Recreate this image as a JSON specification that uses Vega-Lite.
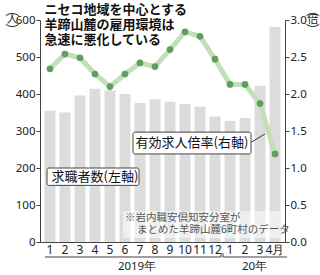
{
  "$schema": "https://vega.github.io/schema/vega-lite/v6.json",
  "width": 245,
  "height": 222,
  "autosize": "none",
  "padding": {"left": 40, "top": 20, "right": 35, "bottom": 33},
  "background": "white",
  "config": {
    "view": {"stroke": null},
    "font": "Noto Sans CJK JP",
    "text": {"font": "Noto Sans CJK JP"}
  },
  "datasets": {
    "d": [
      {"key": "2019-1", "seekers": 355, "ratio": 2.34},
      {"key": "2019-2", "seekers": 350, "ratio": 2.54},
      {"key": "2019-3", "seekers": 396, "ratio": 2.49},
      {"key": "2019-4", "seekers": 414, "ratio": 2.27},
      {"key": "2019-5", "seekers": 410, "ratio": 2.10},
      {"key": "2019-6", "seekers": 400, "ratio": 2.27},
      {"key": "2019-7", "seekers": 376, "ratio": 2.42},
      {"key": "2019-8", "seekers": 386, "ratio": 2.37},
      {"key": "2019-9", "seekers": 379, "ratio": 2.60},
      {"key": "2019-10", "seekers": 373, "ratio": 2.84},
      {"key": "2019-11", "seekers": 366, "ratio": 2.78},
      {"key": "2019-12", "seekers": 339, "ratio": 2.47},
      {"key": "2020-1", "seekers": 327, "ratio": 2.13},
      {"key": "2020-2", "seekers": 335, "ratio": 2.13},
      {"key": "2020-3", "seekers": 422, "ratio": 1.87},
      {"key": "2020-4月", "seekers": 581, "ratio": 1.19}
    ]
  },
  "layer": [
    {
      "data": {"name": "d"},
      "mark": {"type": "bar", "color": "#dcdcdc"},
      "encoding": {
        "x": {
          "field": "key", "type": "nominal",
          "scale": {
            "domain": ["2019-1","2019-2","2019-3","2019-4","2019-5","2019-6","2019-7","2019-8","2019-9","2019-10","2019-11","2019-12","2020-1","2020-2","2020-3","2020-4月"],
            "paddingInner": 0.27, "paddingOuter": 0.3
          },
          "axis": {
            "title": null, "labelAngle": 0, "ticks": false,
            "labelExpr": "split(datum.value, '-')[1]",
            "labelFontSize": 12, "labelColor": "#222", "labelPadding": 2,
            "domainColor": "#444", "labelFont": "Noto Sans", "labelOverlap": false
          }
        },
        "y": {
          "field": "seekers", "type": "quantitative",
          "scale": {"domain": [0, 600], "nice": false},
          "axis": {
            "title": null, "orient": "left", "values": [0,100,200,300,400,500,600],
            "grid": false, "tickSize": 4, "labelPadding": 1, "labelOverlap": false,
            "labelFontSize": 11.5, "labelColor": "#222",
            "domainColor": "#444", "tickColor": "#444", "labelFont": "Noto Sans"
          }
        }
      }
    },
    {
      "data": {"name": "d"},
      "encoding": {
        "x": {"field": "key", "type": "nominal"},
        "y": {
          "field": "ratio", "type": "quantitative",
          "scale": {"domain": [0, 3], "nice": false},
          "axis": {
            "title": null, "orient": "right", "values": [0,0.5,1,1.5,2,2.5,3], "format": ".1f",
            "grid": false, "tickSize": 4, "labelPadding": 1, "labelOverlap": false,
            "labelFontSize": 11.5, "labelColor": "#222",
            "domainColor": "#444", "tickColor": "#444", "labelFont": "Noto Sans"
          }
        }
      },
      "layer": [
        {"mark": {"type": "line", "color": "#c3dfb8", "strokeWidth": 5}},
        {"mark": {"type": "point", "filled": true, "color": "#5e9f5e", "size": 45, "opacity": 1}}
      ]
    },
    {
      "data": {"values": [{}]},
      "layer": [
        {
          "mark": {"type": "rect", "fill": "white", "opacity": 0.55},
          "encoding": {
            "x": {"datum": "2019-6", "bandPosition": 0.32},
            "x2": {"datum": "2020-4月", "bandPosition": 0.95},
            "y": {"datum": 84, "axis": null, "scale": {"domain": [0, 600], "nice": false}},
            "y2": {"datum": 11}
          }
        },
        {
          "mark": {"type": "text", "align": "left", "baseline": "middle", "fontSize": 10.5, "color": "#555"},
          "encoding": {
            "x": {"datum": "2019-6", "bandPosition": 0.5},
            "y": {"datum": 65, "axis": null, "scale": {"domain": [0, 600], "nice": false}},
            "text": {"value": "※岩内職安倶知安分室が"}
          }
        },
        {
          "mark": {"type": "text", "align": "left", "baseline": "middle", "fontSize": 10.5, "color": "#555"},
          "encoding": {
            "x": {"datum": "2019-7", "bandPosition": 0.23},
            "y": {"datum": 32, "axis": null, "scale": {"domain": [0, 600], "nice": false}},
            "text": {"value": "まとめた羊蹄山麓6町村のデータ"}
          }
        },
        {
          "mark": {"type": "text", "align": "left", "baseline": "top", "fontSize": 13, "fontWeight": "bold", "lineHeight": 15, "color": "#111"},
          "encoding": {
            "x": {"datum": "2019-1", "bandPosition": 0},
            "y": {"datum": 643, "axis": null, "scale": {"domain": [0, 600], "nice": false}},
            "text": {"value": ["ニセコ地域を中心とする", "羊蹄山麓の雇用環境は", "急速に悪化している"]}
          }
        },
        {
          "mark": {"type": "rect", "fill": "white", "stroke": "#444", "strokeWidth": 1, "cornerRadius": 2},
          "encoding": {
            "x": {"datum": "2019-7", "bandPosition": -0.14},
            "x2": {"datum": "2020-2", "bandPosition": 1.05},
            "y": {"datum": 297, "axis": null, "scale": {"domain": [0, 600], "nice": false}},
            "y2": {"datum": 238}
          }
        },
        {
          "mark": {"type": "text", "align": "center", "baseline": "middle", "fontSize": 13, "color": "#111"},
          "encoding": {
            "x": {"datum": "2019-11", "bandPosition": -0.23},
            "y": {"datum": 267, "axis": null, "scale": {"domain": [0, 600], "nice": false}},
            "text": {"value": "有効求人倍率(右軸)"}
          }
        },
        {
          "mark": {"type": "rule", "stroke": "#333", "strokeWidth": 1},
          "encoding": {
            "x": {"datum": "2020-2", "bandPosition": 1.1},
            "x2": {"datum": "2020-3", "bandPosition": 0.95},
            "y": {"datum": 270, "axis": null, "scale": {"domain": [0, 600], "nice": false}},
            "y2": {"datum": 292}
          }
        },
        {
          "mark": {"type": "rect", "fill": "white", "stroke": "#444", "strokeWidth": 1, "cornerRadius": 2},
          "encoding": {
            "x": {"datum": "2019-1", "bandPosition": 0.23},
            "x2": {"datum": "2019-7", "bandPosition": 0.41},
            "y": {"datum": 200, "axis": null, "scale": {"domain": [0, 600], "nice": false}},
            "y2": {"datum": 153}
          }
        },
        {
          "mark": {"type": "text", "align": "center", "baseline": "middle", "fontSize": 13, "color": "#111"},
          "encoding": {
            "x": {"datum": "2019-4", "bandPosition": 0.5},
            "y": {"datum": 176, "axis": null, "scale": {"domain": [0, 600], "nice": false}},
            "text": {"value": "求職者数(左軸)"}
          }
        },
        {
          "mark": {"type": "rule", "stroke": "#444", "strokeWidth": 1},
          "encoding": {
            "x": {"datum": "2019-1", "bandPosition": 0.05},
            "x2": {"datum": "2019-12", "bandPosition": 1.05},
            "y": {"datum": -40.5, "axis": null, "scale": {"domain": [0, 600], "nice": false}}
          }
        },
        {
          "mark": {"type": "rule", "stroke": "#444", "strokeWidth": 1},
          "encoding": {
            "x": {"datum": "2019-12", "bandPosition": 1.05},
            "y": {"datum": -40.5, "axis": null, "scale": {"domain": [0, 600], "nice": false}},
            "y2": {"datum": -30}
          }
        },
        {
          "mark": {"type": "rule", "stroke": "#444", "strokeWidth": 1},
          "encoding": {
            "x": {"datum": "2020-1", "bandPosition": -0.14},
            "x2": {"datum": "2020-4月", "bandPosition": 1.6},
            "y": {"datum": -40.5, "axis": null, "scale": {"domain": [0, 600], "nice": false}}
          }
        },
        {
          "mark": {"type": "rule", "stroke": "#444", "strokeWidth": 1},
          "encoding": {
            "x": {"datum": "2020-1", "bandPosition": -0.14},
            "y": {"datum": -40.5, "axis": null, "scale": {"domain": [0, 600], "nice": false}},
            "y2": {"datum": -30}
          }
        },
        {
          "mark": {"type": "text", "align": "center", "baseline": "middle", "fontSize": 11.5, "color": "#222", "font": "Noto Sans"},
          "encoding": {
            "x": {"datum": "2019-7", "bandPosition": 0.23},
            "y": {"datum": -67.6, "axis": null, "scale": {"domain": [0, 600], "nice": false}},
            "text": {"value": "2019年"}
          }
        },
        {
          "mark": {"type": "text", "align": "center", "baseline": "middle", "fontSize": 11.5, "color": "#222", "font": "Noto Sans"},
          "encoding": {
            "x": {"datum": "2020-3", "bandPosition": 0},
            "y": {"datum": -67.6, "axis": null, "scale": {"domain": [0, 600], "nice": false}},
            "text": {"value": "20年"}
          }
        },
        {
          "mark": {"type": "text", "align": "center", "baseline": "middle", "fontSize": 11, "color": "#222"},
          "encoding": {
            "x": {"datum": "2019-1", "bandPosition": -2.95},
            "y": {"datum": 600, "axis": null, "scale": {"domain": [0, 600], "nice": false}},
            "text": {"value": "人"}
          }
        },
        {
          "mark": {"type": "point", "filled": false, "stroke": "#222", "strokeWidth": 1, "opacity": 1, "size": 256,
                   "shape": "M-0.8,-0.55 Q0,-1.1 0.8,-0.55 M-0.8,0.55 Q0,1.1 0.8,0.55"},
          "encoding": {
            "x": {"datum": "2019-1", "bandPosition": -2.95},
            "y": {"datum": 600, "axis": null, "scale": {"domain": [0, 600], "nice": false}}
          }
        },
        {
          "mark": {"type": "text", "align": "center", "baseline": "middle", "fontSize": 11, "color": "#222"},
          "encoding": {
            "x": {"datum": "2020-4月", "bandPosition": 3.95},
            "y": {"datum": 600, "axis": null, "scale": {"domain": [0, 600], "nice": false}},
            "text": {"value": "倍"}
          }
        },
        {
          "mark": {"type": "point", "filled": false, "stroke": "#222", "strokeWidth": 1, "opacity": 1, "size": 256,
                   "shape": "M-0.8,-0.55 Q0,-1.1 0.8,-0.55 M-0.8,0.55 Q0,1.1 0.8,0.55"},
          "encoding": {
            "x": {"datum": "2020-4月", "bandPosition": 3.95},
            "y": {"datum": 600, "axis": null, "scale": {"domain": [0, 600], "nice": false}}
          }
        }
      ]
    }
  ],
  "resolve": {"scale": {"y": "independent"}}
}
